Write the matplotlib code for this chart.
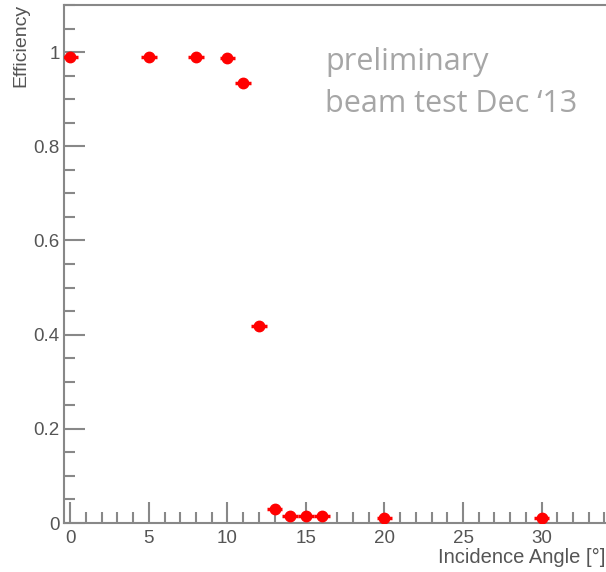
import matplotlib.pyplot as plt
from matplotlib.ticker import MultipleLocator

plt.rcParams['font.family'] = ['Liberation Sans', 'DejaVu Sans']

angle = [0, 5, 8, 10, 11, 12, 13, 14, 15, 16, 20, 30]
efficiency = [0.99, 0.99, 0.99, 0.987, 0.935, 0.418, 0.03, 0.015, 0.015, 0.015, 0.01, 0.01]
angle_err = [0.5] * len(angle)

fig = plt.figure(figsize=(6.06, 5.72), dpi=100)
ax = fig.add_axes([64 / 606, 49 / 572, 542 / 606, 518 / 572])

ax.errorbar(angle, efficiency, xerr=angle_err, fmt='o', color='#ff0000',
            markersize=7.5, elinewidth=2.5, capsize=0, zorder=3)

ax.set_xlim(-0.4, 34.1)
ax.set_ylim(0, 1.1)
ax.xaxis.set_major_locator(MultipleLocator(5))
ax.xaxis.set_minor_locator(MultipleLocator(1))
ax.yaxis.set_minor_locator(MultipleLocator(0.05))
ax.set_yticks([0, 0.2, 0.4, 0.6, 0.8, 1.0])
ax.set_yticklabels(['0', '0.2', '0.4', '0.6', '0.8', '1'])

ax.tick_params(which='both', direction='in', colors='#888888', labelcolor='#555555',
               labelsize=13.5, width=1.5)
ax.tick_params(which='major', length=15)
ax.tick_params(which='minor', length=8)
ax.tick_params(axis='x', pad=5)
ax.tick_params(axis='y', pad=3)

for side in ['left', 'bottom', 'top']:
    ax.spines[side].set_color('#888888')
    ax.spines[side].set_linewidth(1.5)
ax.spines['right'].set_visible(False)

fig.text(21 / 606, 1 - 4 / 572, 'Efficiency', rotation=90, ha='center', va='top',
         fontsize=14, color='#555555')
fig.text(605 / 606, 15 / 572, 'Incidence Angle [°]', ha='right', va='center',
         fontsize=14.5, color='#555555')

# annotation text
fig.text(325 / 606, 1 - 62 / 572, 'preliminary', ha='left', va='center',
         fontsize=22, color='#a6a6a6', family=['Open Sans', 'DejaVu Sans'])
fig.text(325 / 606, 1 - 104 / 572, 'beam test Dec \u201813', ha='left', va='center',
         fontsize=22, color='#a6a6a6', family=['Open Sans', 'DejaVu Sans'])

fig.savefig('out.png', dpi=100)
